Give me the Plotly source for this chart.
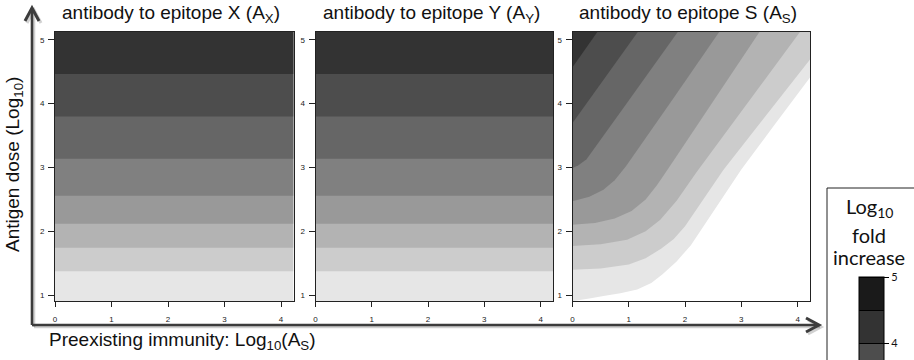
import plotly.graph_objects as go

W, H = 914, 360

# ---------------- data ----------------
# panels X and Y: fold increase depends on antigen dose only
immunity_xy = [0.0, 4.22]
dose_xy = [0.91, 1.386, 1.745, 2.12, 2.558, 3.136, 3.797, 4.464, 5.125]
fold_x = [0.55, 1.01, 1.5, 2.0, 2.5, 3.0, 3.5, 4.0, 4.48]
fold_y = [0.55, 1.01, 1.5, 2.0, 2.5, 3.0, 3.5, 4.0, 4.48]

# panel S: contour boundaries (where log10 fold increase equals each level),
# read as (preexisting immunity, antigen dose) points
level_s = [0.5, 1.0, 1.5, 2.0, 2.5, 3.0, 3.5, 4.0]
bound_x_s = [
    [-0.2, 0, 0.3, 0.55, 0.85, 1.15, 1.4, 1.6, 1.85, 2.1, 2.5, 3.0, 3.6, 4.21, 4.4],
    [-0.2, 0, 0.5, 1.0, 1.3, 1.58, 1.8, 2.0, 2.3, 2.68, 3.4, 4.21, 4.4],
    [-0.2, 0, 0.5, 0.97, 1.3, 1.56, 1.85, 2.2, 3.1, 4.036, 4.2],
    [-0.2, 0, 0.4, 0.75, 1.05, 1.3, 1.5, 1.7, 2.5, 3.324, 3.45],
    [-0.2, 0, 0.3, 0.55, 0.75, 0.95, 1.8, 2.613, 2.7],
    [-0.2, 0, 0.1, 0.25, 1.0, 1.875, 2.0],
    [-0.2, 1.3],
    [-0.2, 0.55],
]
bound_dose_s = [
    [0.88, 0.905, 0.95, 0.99, 1.03, 1.09, 1.19, 1.33, 1.53, 1.78, 2.30, 2.97, 3.68, 4.40, 4.62],
    [1.39, 1.40, 1.42, 1.48, 1.58, 1.73, 1.88, 2.08, 2.47, 2.96, 3.77, 4.68, 4.89],
    [1.76, 1.77, 1.80, 1.87, 2.00, 2.18, 2.48, 2.92, 4.00, 5.125, 5.31],
    [2.09, 2.10, 2.13, 2.20, 2.32, 2.50, 2.72, 2.98, 4.03, 5.125, 5.29],
    [2.44, 2.47, 2.54, 2.65, 2.80, 3.02, 4.09, 5.125, 5.24],
    [2.95, 2.99, 3.03, 3.13, 4.05, 5.125, 5.28],
    [3.448, 5.293],
    [4.319, 5.256],
]

x_ticks = [0, 1, 2, 3, 4]
y_ticks = [1, 2, 3, 4, 5]
cb_ticks = [0, 1, 2, 3, 4, 5]
level_grays = ["#ffffff", "#e6e6e6", "#cccccc", "#b3b3b3", "#999999",
               "#808080", "#666666", "#4d4d4d", "#333333", "#1a1a1a"]

panel_titles = ["antibody to epitope X (A<sub>X</sub>)",
                "antibody to epitope Y (A<sub>Y</sub>)",
                "antibody to epitope S (A<sub>S</sub>)"]
key_title_lines = ["Log<sub>10</sub>", "fold", "increase"]

# ---------------- layout helpers ----------------
def px(p):
    return p / W

def py(p):
    return 1 - p / H

cscale = []
n = len(level_grays)
for k, c in enumerate(level_grays):
    cscale.append([k / n, c])
    cscale.append([(k + 1) / n, c])

panel_px = [(55, 293.5), (315.5, 553), (572.5, 810)]
top_px, bot_px = 31.7, 301
x_range = [0, 4.22]
y_range = [0.91, 5.125]
CB_MAX = 5.0
STEP = 0.5

contour_common = dict(
    zmin=0, zmax=CB_MAX, autocontour=False,
    contours=dict(start=0, end=CB_MAX, size=STEP, coloring="fill", showlines=False),
    colorscale=cscale, line=dict(width=0), hoverinfo="skip",
)

fig = go.Figure()
fig.add_trace(go.Contour(x=immunity_xy, y=dose_xy, z=[[f, f] for f in fold_x],
                         xaxis="x", yaxis="y", showscale=False, **contour_common))
fig.add_trace(go.Contour(x=immunity_xy, y=dose_xy, z=[[f, f] for f in fold_y],
                         xaxis="x2", yaxis="y2", showscale=False, **contour_common))

# panel S: fill the region above each boundary (higher fold) with its band colour
top_out = y_range[1] + 1.0
for lvl, bx, bd in zip(level_s, bound_x_s, bound_dose_s):
    color = level_grays[int(round(lvl / STEP))]
    fig.add_trace(go.Scatter(
        x=bx + [bx[-1], bx[0]], y=bd + [top_out, top_out],
        mode="lines", fill="toself", fillcolor=color,
        line=dict(width=0, color=color), hoverinfo="skip",
        xaxis="x3", yaxis="y3", showlegend=False,
    ))

# legend trace (off-range axes) that carries the colour key with black level lines
fig.add_trace(go.Contour(
    x=immunity_xy, y=dose_xy, z=[[f, f] for f in fold_x], xaxis="x4", yaxis="y4",
    zmin=0, zmax=CB_MAX, autocontour=False,
    contours=dict(start=0, end=CB_MAX, size=STEP, coloring="fill", showlines=True),
    line=dict(color="black", width=1), colorscale=cscale, hoverinfo="skip",
    showscale=True,
    colorbar=dict(thickness=25, len=330, lenmode="pixels",
                  x=px(859), xanchor="left", xpad=0,
                  y=py(277), yanchor="top", ypad=0,
                  outlinewidth=1, outlinecolor="black",
                  tickvals=cb_ticks, ticks="outside", ticklen=5, tickcolor="black",
                  tickfont=dict(family="Lato", size=11, color="#111"),
                  borderwidth=0),
))

axis_font = dict(family="Liberation Sans", size=8, color="#222")
layout = dict(
    width=W, height=H, autosize=False,
    margin=dict(l=0, r=0, t=0, b=0, autoexpand=False),
    paper_bgcolor="white", plot_bgcolor="white",
    showlegend=False,
)
for i, (x0, x1) in enumerate(panel_px):
    sfx = "" if i == 0 else str(i + 1)
    layout["xaxis" + sfx] = dict(
        domain=[px(x0), px(x1)], range=x_range, anchor="y" + sfx,
        tickvals=x_ticks, ticks="outside", ticklen=5, tickcolor="#222",
        showline=True, mirror=True, linecolor="#222", linewidth=1,
        showgrid=False, zeroline=False, tickfont=axis_font, ticklabelstandoff=5,
    )
    layout["yaxis" + sfx] = dict(
        domain=[py(bot_px), py(top_px)], range=y_range, anchor="x" + sfx,
        tickvals=y_ticks, ticks="outside", ticklen=6, tickcolor="#222",
        showline=True, mirror=True, linecolor="#222", linewidth=1,
        showgrid=False, zeroline=False, tickfont=axis_font, ticklabelstandoff=2,
    )
layout["xaxis4"] = dict(domain=[0, 0.01], range=[100, 101], anchor="y4", visible=False)
layout["yaxis4"] = dict(domain=[0, 0.01], range=[100, 101], anchor="x4", visible=False)

annotations = []
title_font = dict(family="Liberation Sans", size=19, color="#111")
for (x0, x1), t in zip(panel_px, panel_titles):
    annotations.append(dict(text=t, xref="paper", yref="paper", x=px((x0 + x1) / 2 - 3),
                            y=py(14), xanchor="center", yanchor="middle",
                            showarrow=False, font=title_font))
annotations.append(dict(text="Antigen dose (Log<sub>10</sub>)", textangle=-90,
                        xref="paper", yref="paper", x=px(14), y=py(165),
                        xanchor="center", yanchor="middle", showarrow=False,
                        font=title_font))
annotations.append(dict(text="Preexisting immunity: Log<sub>10</sub>(A<sub>S</sub>)",
                        xref="paper", yref="paper", x=px(182), y=py(341),
                        xanchor="center", yanchor="middle", showarrow=False,
                        font=title_font))
for t, yy in zip(key_title_lines, (208, 235, 257)):
    annotations.append(dict(text=t, xref="paper", yref="paper", x=px(869), y=py(yy),
                            xanchor="center", yanchor="middle", showarrow=False,
                            font=dict(family="Lato", size=20, color="#111")))
layout["annotations"] = annotations

arrow_c = "#3c3c3c"
shadow_c = "rgba(0,0,0,0.18)"

def seg(x0, y0, x1, y1, color, width):
    return dict(type="line", xref="paper", yref="paper", layer="above",
                x0=px(x0), y0=py(y0), x1=px(x1), y1=py(y1),
                line=dict(color=color, width=width))

def poly(points, color, width):
    d = "M " + " L ".join(f"{px(a):.5f},{py(b):.5f}" for a, b in points)
    return dict(type="path", xref="paper", yref="paper", layer="above", path=d,
                line=dict(color=color, width=width))

shapes = [
    # key box
    dict(type="rect", xref="paper", yref="paper", layer="below",
         x0=px(827), y0=py(188), x1=px(925), y1=py(375),
         line=dict(color="#222", width=1), fillcolor="white"),
]
for off, col in ((2, shadow_c), (0, arrow_c)):
    shapes.append(seg(32 + off, 325 + off, 32 + off, 9 + off, col, 2.6))
    shapes.append(poly([(25 + off, 21 + off), (32 + off, 8 + off), (39 + off, 21 + off)], col, 3))
    shapes.append(seg(32 + off, 325 + off, 818 + off, 325 + off, col, 2.6))
    shapes.append(poly([(806 + off, 318 + off), (819 + off, 325 + off), (806 + off, 332 + off)], col, 3))
layout["shapes"] = shapes

fig.update_layout(**layout)
fig.write_html("out.html", config={"displayModeBar": False},
               post_script="document.body.style.margin='0px';document.body.style.overflow='hidden';")
